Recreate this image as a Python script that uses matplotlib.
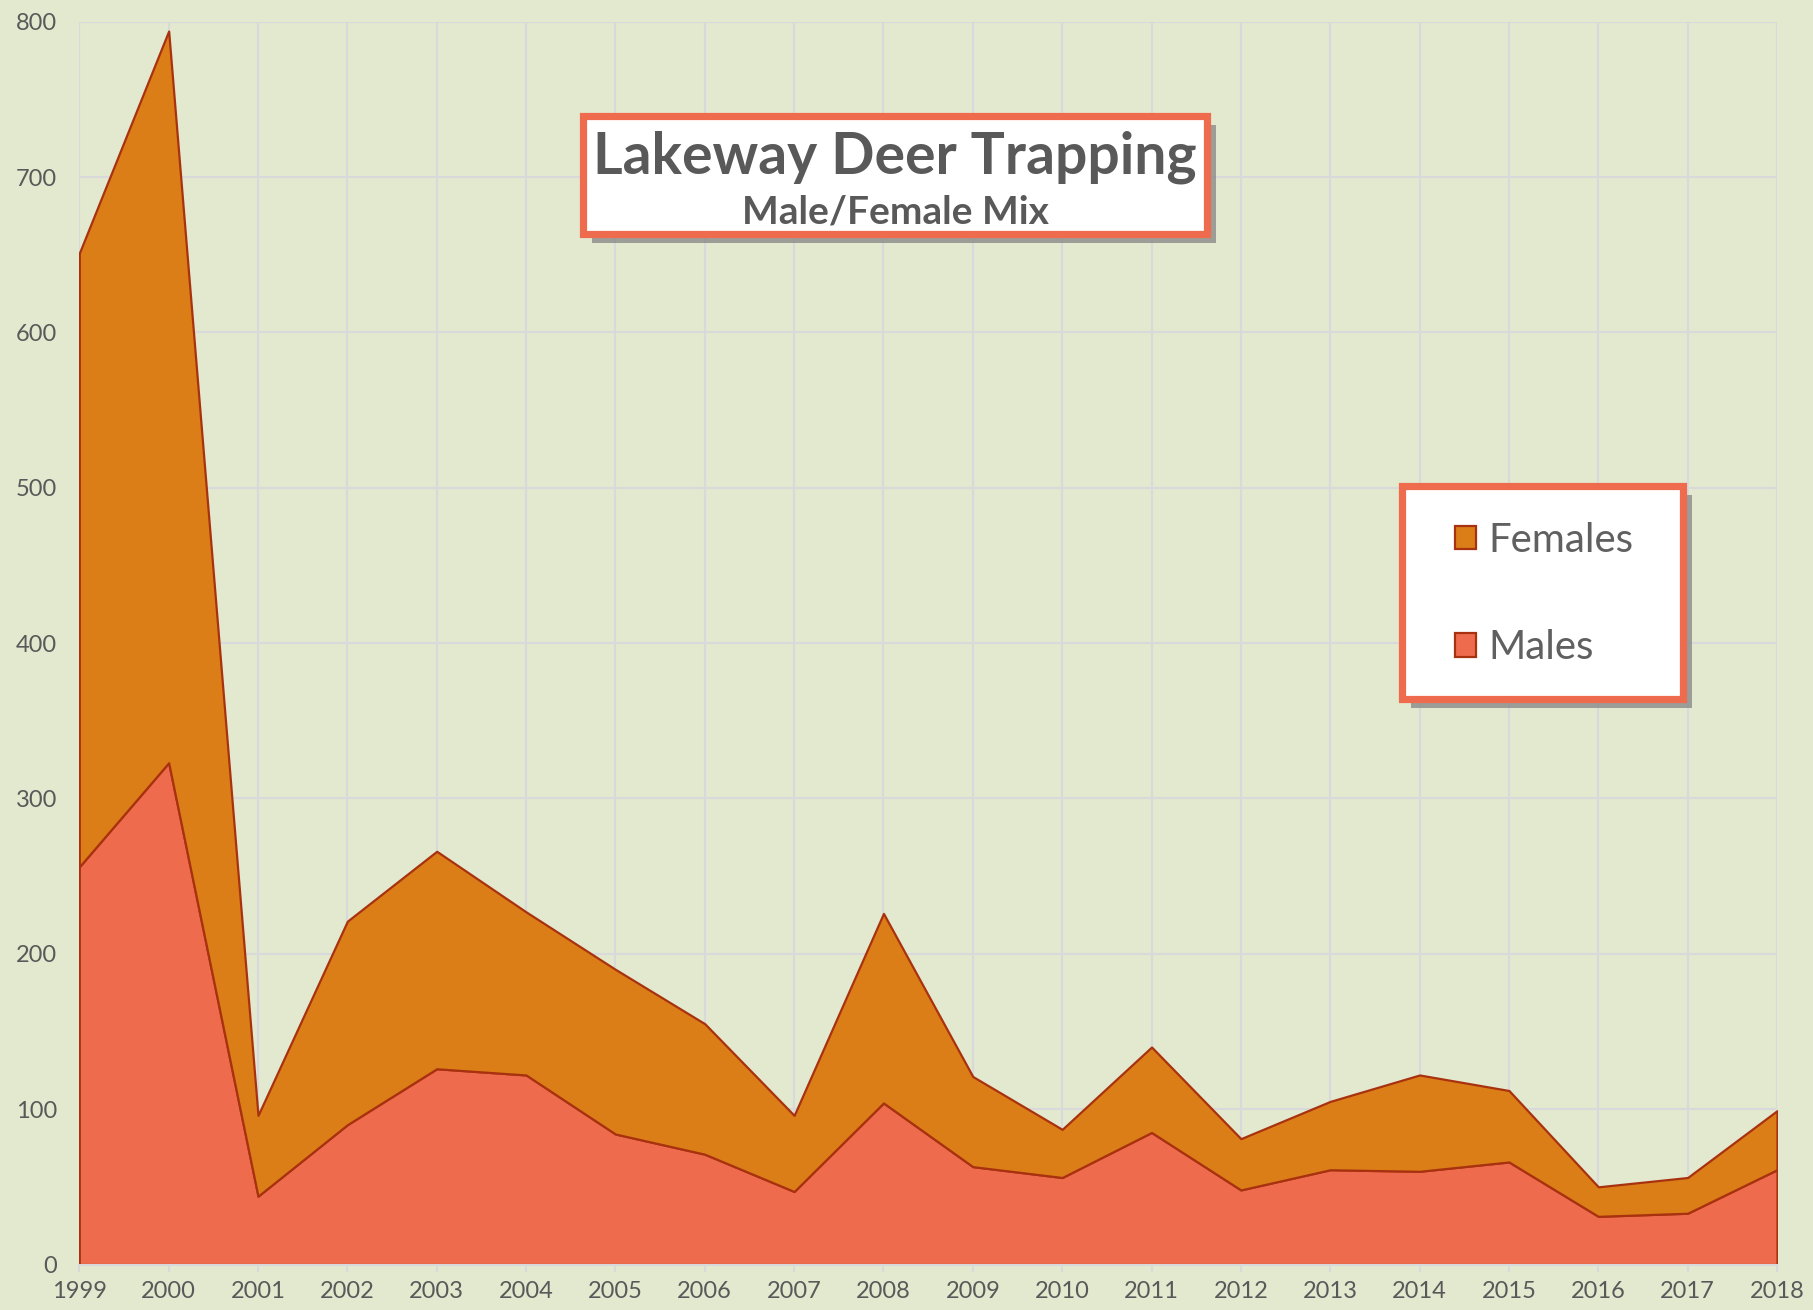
import matplotlib
matplotlib.use("Agg")
import matplotlib.pyplot as plt
from matplotlib.patches import Rectangle
import numpy as np

plt.rcParams['font.family'] = ['Lato', 'DejaVu Sans']

years = list(range(1999, 2019))
males = [256, 323, 44, 90, 126, 122, 84, 71, 47, 104, 63, 56, 85, 48, 61, 60, 66, 31, 33, 61]
females = [395, 471, 52, 131, 140, 105, 106, 84, 49, 122, 58, 31, 55, 33, 44, 62, 46, 19, 23, 38]
series_labels = ['Males', 'Females']
yticks = [0, 100, 200, 300, 400, 500, 600, 700, 800]
title = 'Lakeway Deer Trapping'
subtitle = 'Male/Female Mix'

BG = '#e3e9cf'
C_MALE = '#ee6c4d'
C_FEMALE = '#dc7e18'
EDGE = '#a8320f'
GRID = '#d9d9dc'
TXT = '#595959'
SHADOW = '#8a8a8a'

W, H = 1813, 1310
fig = plt.figure(figsize=(W / 100, H / 100), dpi=100, facecolor=BG)
ax = fig.add_axes([79.3 / W, (H - 1264.5) / H, (1777 - 79.3) / W, (1264.5 - 21.7) / H])
ax.set_facecolor(BG)

polys = ax.stackplot(years, males, females, labels=series_labels,
                     colors=[C_MALE, C_FEMALE], edgecolor=EDGE, linewidth=1.6, zorder=3)

ax.set_xlim(1999, 2018)
ax.set_ylim(0, 800)
ax.set_xticks(years)
ax.set_xticklabels([str(y) for y in years])
ax.set_yticks(yticks)
ax.grid(True, color=GRID, linewidth=1.5, zorder=0)
ax.set_axisbelow(True)
for s in ['left', 'right', 'top']:
    ax.spines[s].set_visible(False)
ax.spines['bottom'].set_color(GRID)
ax.spines['bottom'].set_linewidth(1.5)
ax.spines['bottom'].set_zorder(4)
ax.tick_params(axis='x', length=5, width=1.5, color=GRID, pad=7, labelsize=17, labelcolor=TXT)
ax.tick_params(axis='y', length=0, pad=16, labelsize=17, labelcolor=TXT)


def fig_rect(x0, y0, x1, y1, **kw):
    return Rectangle((x0 / W, (H - y1) / H), (x1 - x0) / W, (y1 - y0) / H,
                     transform=fig.transFigure, **kw)


# Title box
fig.patches.append(fig_rect(583 + 9, 116 + 9, 1207 + 9, 233.5 + 9, facecolor=SHADOW,
                            edgecolor='none', alpha=0.8, zorder=5))
fig.patches.append(fig_rect(583, 116, 1207, 233.5, facecolor='white',
                            edgecolor=C_MALE, linewidth=5.2, zorder=6))
fig.text(895 / W, 1 - 157 / H, title, ha='center', va='center', fontsize=41,
         fontweight='bold', color=TXT, zorder=7)
fig.text(895 / W, 1 - 212 / H, subtitle, ha='center', va='center', fontsize=28,
         fontweight='bold', color=TXT, zorder=7)

# Legend box
fig.patches.append(fig_rect(1401.5 + 9, 486 + 9, 1682.5 + 9, 698.5 + 9, facecolor=SHADOW,
                            edgecolor='none', alpha=0.8, zorder=5))
fig.patches.append(fig_rect(1401.5, 486, 1682.5, 698.5, facecolor='white',
                            edgecolor=C_MALE, linewidth=5.2, zorder=6))

handles = [polys[1], polys[0]]
leg = fig.legend(handles, [series_labels[1], series_labels[0]],
                 loc='center left', bbox_to_anchor=(1455 / W, 1 - 594 / H),
                 fontsize=29, frameon=False,
                 handlelength=0.52, handleheight=0.52, handletextpad=0.3,
                 labelspacing=1.74, borderpad=0, borderaxespad=0)
leg.set_zorder(8)
for t in leg.get_texts():
    t.set_color('#606060')

fig.savefig('out.png', dpi=100, facecolor=BG)
